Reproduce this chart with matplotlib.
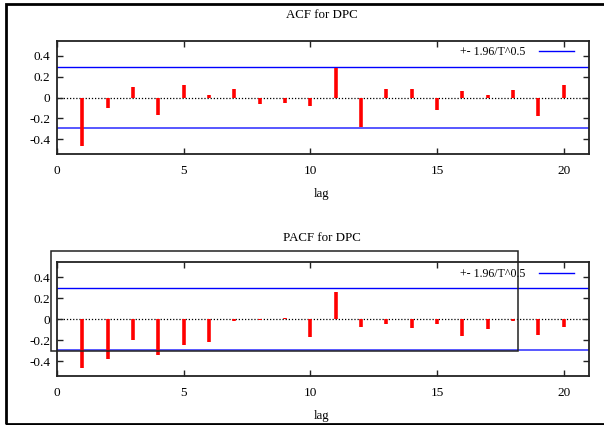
import matplotlib
matplotlib.use("Agg")
import matplotlib.pyplot as plt
from matplotlib.patches import Rectangle

plt.rcParams["font.family"] = ["Liberation Serif", "DejaVu Serif"]
plt.rcParams["font.size"] = 9.5

LAGS = list(range(1, 21))
ACF = [-0.46, -0.10, 0.105, -0.17, 0.115, 0.025, 0.078, -0.066, -0.05, -0.085,
       0.28, -0.285, 0.084, 0.084, -0.12, 0.066, 0.022, 0.072, -0.172, 0.122]
PACF = [-0.463, -0.38, -0.197, -0.343, -0.248, -0.219, -0.016, -0.005, 0.016, -0.171,
        0.263, -0.076, -0.05, -0.086, -0.041, -0.156, -0.095, -0.016, -0.149, -0.073]
BAND = 0.295
TITLES = ["ACF for DPC", "PACF for DPC"]
LEGEND_LABEL = "+- 1.96/T^0.5"
XTICKS = [0, 5, 10, 15, 20]
YTICKS = [-0.4, -0.2, 0, 0.2, 0.4]
YTICKLABELS = ["-0.4", "-0.2", "0", "0.2", "0.4"]

fig = plt.figure(figsize=(6.04, 4.25), dpi=100)

# outer frame (right side runs off the picture)
fig.add_artist(Rectangle((0.0099, 0.0035), 1.2, 0.988, transform=fig.transFigure,
                         fill=False, ec="black", lw=2, clip_on=False))

panels = [
    (TITLES[0], ACF, [0.0944, 0.6376, 0.8808, 0.2659], 0.965, 0.5435),
    (TITLES[1], PACF, [0.0944, 0.1153, 0.8808, 0.2671], 0.440, 0.021),
]

for title, vals, rect, ty, ly in panels:
    ax = fig.add_axes(rect)
    ax.set_xlim(0, 21)
    ax.set_ylim(-0.54, 0.54)
    ax.axhline(0, color="black", lw=0.9, ls=(0, (1, 1.5)), zorder=1)
    ax.axhline(BAND, color="blue", lw=1, zorder=2, label=LEGEND_LABEL)
    ax.axhline(-BAND, color="#4a4aff", lw=1.3, zorder=2)
    ax.vlines(LAGS, 0, vals, color="red", lw=2.6, zorder=3)
    ax.set_xticks(XTICKS)
    ax.set_yticks(YTICKS)
    ax.set_yticklabels(YTICKLABELS)
    ax.tick_params(direction="in", length=4, width=1, top=True, right=True,
                   labelsize=9.5, color="#222222")
    ax.tick_params(axis="x", pad=8)
    ax.tick_params(axis="y", pad=5)
    for s in ax.spines.values():
        s.set_linewidth(1.3)
        s.set_color("#222222")
    ax.legend(loc="center right", bbox_to_anchor=(0.972, 0.90), frameon=False,
              markerfirst=False, handlelength=2.95, handletextpad=1.1,
              fontsize=8.6, borderaxespad=0, borderpad=0)
    fig.text(0.533, ty, title, ha="center", va="center", fontsize=9.3)
    fig.text(0.533, ly, "lag", ha="center", va="center", fontsize=9.3)

# stray box over the lower panel
fig.add_artist(Rectangle((0.0844, 0.1748), 0.7737, 0.2346, transform=fig.transFigure,
                         fill=False, ec="#222222", lw=1.1, zorder=10))

fig.savefig("out.png", dpi=100)
